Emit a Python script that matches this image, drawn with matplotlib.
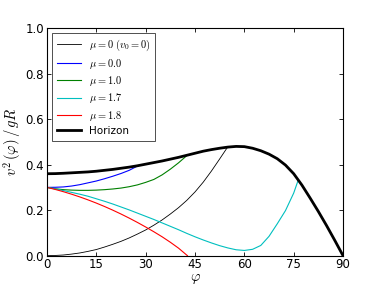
import matplotlib
matplotlib.use("Agg")
import matplotlib.pyplot as plt

# values (phi in degrees, v^2/gR)
phi_v0 = [0, 2.5, 5, 7.5, 10, 12.5, 15, 17.5, 20, 22.5, 25, 27.5, 30, 32.5, 35, 37.5, 40, 42.5, 45, 47.5, 50, 52.5, 55]
v_v0 = [0, 0.001, 0.003, 0.007, 0.012, 0.019, 0.027, 0.038, 0.05, 0.063, 0.078, 0.095, 0.113, 0.134, 0.157,
        0.183, 0.211, 0.243, 0.28, 0.323, 0.372, 0.425, 0.479]

phi_mu00 = [0, 2.5, 5, 7.5, 10, 12.5, 15, 17.5, 20, 22.5, 25, 27.8]
v_mu00 = [0.3, 0.3005, 0.302, 0.306, 0.312, 0.32, 0.328, 0.338, 0.349, 0.361, 0.375, 0.396]

phi_mu10 = [0, 2.5, 5, 7.5, 10, 12.5, 15, 17.5, 20, 22.5, 25, 27.5, 30, 32.5, 35, 37.5, 40, 42.7]
v_mu10 = [0.3, 0.294, 0.29, 0.288, 0.287, 0.287, 0.288, 0.29, 0.293, 0.297, 0.303, 0.311, 0.322, 0.335, 0.355,
          0.38, 0.408, 0.442]

phi_mu17 = [0, 2.5, 5, 7.5, 10, 12.5, 15, 17.5, 20, 22.5, 25, 27.5, 30, 32.5, 35, 37.5, 40, 42.5, 45, 47.5,
            50, 52.5, 55, 57.5, 60, 62.5, 65, 67.5, 70, 72.5, 75, 76.4]
v_mu17 = [0.3, 0.293, 0.286, 0.278, 0.27, 0.261, 0.25, 0.239, 0.227, 0.214, 0.201, 0.187, 0.173, 0.159, 0.144,
          0.129, 0.114, 0.098, 0.083, 0.069, 0.056, 0.044, 0.034, 0.026, 0.023, 0.028, 0.045, 0.085, 0.14,
          0.198, 0.275, 0.333]

phi_mu18 = [0, 2.5, 5, 7.5, 10, 12.5, 15, 17.5, 20, 22.5, 25, 27.5, 30, 32.5, 35, 37.5, 40, 42.7]
v_mu18 = [0.3, 0.291, 0.281, 0.27, 0.258, 0.245, 0.231, 0.216, 0.2, 0.183, 0.165, 0.146, 0.126, 0.105, 0.083,
          0.059, 0.033, 0]

phi_hor = [0, 2.5, 5, 7.5, 10, 12.5, 15, 17.5, 20, 22.5, 25, 27.5, 30, 32.5, 35, 37.5, 40, 42.5, 45, 47.5,
           50, 52.5, 55, 57.5, 60, 62.5, 65, 67.5, 70, 72.5, 75, 77.5, 80, 82.5, 85, 87.5, 90]
v_hor = [0.36, 0.3605, 0.362, 0.364, 0.366, 0.368, 0.371, 0.375, 0.379, 0.384, 0.389, 0.395, 0.402, 0.409,
         0.416, 0.424, 0.432, 0.441, 0.45, 0.459, 0.466, 0.472, 0.477, 0.48, 0.479, 0.472, 0.461, 0.446,
         0.426, 0.398, 0.36, 0.31, 0.253, 0.194, 0.132, 0.067, 0]

xticks = [0, 15, 30, 45, 60, 75, 90]
yticks = [0.0, 0.2, 0.4, 0.6, 0.8, 1.0]

plt.rcParams['mathtext.fontset'] = 'cm'
plt.rcParams['font.family'] = 'DejaVu Sans'

fig = plt.figure(figsize=(3.82, 2.86), dpi=100)
ax = fig.add_axes([0.123, 0.106, 0.775, 0.796])

ax.plot(phi_v0, v_v0, color='k', lw=0.6, label=r'$\mu=0\ (v_0=0)$')
ax.plot(phi_mu00, v_mu00, color='b', lw=0.8, label=r'$\mu=0.0$')
ax.plot(phi_mu10, v_mu10, color='g', lw=0.8, label=r'$\mu=1.0$')
ax.plot(phi_mu17, v_mu17, color='c', lw=0.8, label=r'$\mu=1.7$')
ax.plot(phi_mu18, v_mu18, color='r', lw=0.8, label=r'$\mu=1.8$')
ax.plot(phi_hor, v_hor, color='k', lw=2.0, label='Horizon')

ax.set_xlim(0, 90)
ax.set_ylim(0, 1.0)
ax.set_xticks(xticks)
ax.set_yticks(yticks)
ax.tick_params(direction='in', top=True, right=True, labelsize=8.5, length=3, width=0.6, pad=2)
for s in ax.spines.values():
    s.set_linewidth(0.8)

ax.set_xlabel(r'$\varphi$', fontsize=10.5, labelpad=0)
ax.set_ylabel(r'$v^2\,(\varphi)\,/\,gR$', fontsize=10.5, labelpad=2)

leg = ax.legend(loc='upper left', fontsize=7.5, frameon=True, fancybox=False,
                handlelength=2.3, borderpad=0.45, labelspacing=0.32, borderaxespad=0.5)
leg.get_frame().set_edgecolor('k')
leg.get_frame().set_linewidth(0.6)

fig.savefig('out.png', dpi=100)
